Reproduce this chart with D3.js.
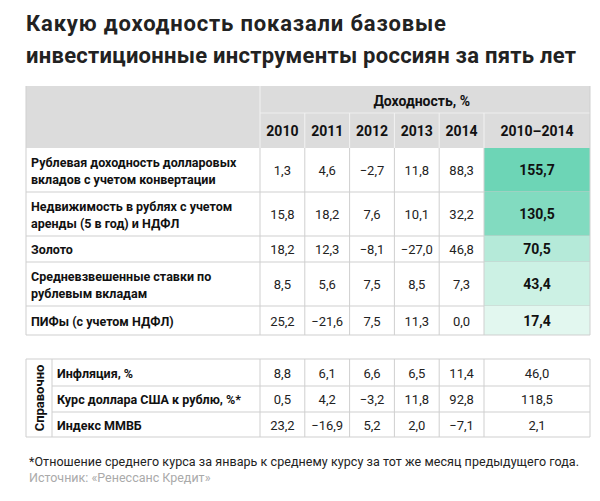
<!DOCTYPE html><html><head><meta charset="utf-8"><script src="https://cdn.jsdelivr.net/npm/d3@7"></script>
<style>body{margin:0;background:#fff}svg{font-family:Roboto,"Noto Sans",sans-serif}</style></head><body><svg width="600" height="501"></svg>
<script>
const years=["2010","2011","2012","2013","2014"];
const totalLabel="2010–2014";
const rowLabels=[["Рублевая доходность долларовых","вкладов с учетом конвертации"],["Недвижимость в рублях с учетом","аренды (5 в год) и НДФЛ"],["Золото"],["Средневзвешенные ставки по","рублевым вкладам"],["ПИФы (с учетом НДФЛ)"]];
const rowValues=[[1.3,4.6,-2.7,11.8,88.3],[15.8,18.2,7.6,10.1,32.2],[18.2,12.3,-8.1,-27.0,46.8],[8.5,5.6,7.5,8.5,7.3],[25.2,-21.6,7.5,11.3,0.0]];
const rowTotals=[155.7,130.5,70.5,43.4,17.4];
const refLabels=["Инфляция, %","Курс доллара США к рублю, %*","Индекс ММВБ"];
const refValues=[[8.8,6.1,6.6,6.5,11.4],[0.5,4.2,-3.2,11.8,92.8],[23.2,-16.9,5.2,2.0,-7.1]];
const refTotals=[46.0,118.5,2.1];

const svg=d3.select("svg");
const fmt=v=>d3.format(".1f")(v).replace(".",",").replace("-","–");
const L=26,R=590,labW=260;
const x=d3.scaleBand().domain(years).range([labW,484]);
const color=d3.scaleLinear().domain([17.4,155.7]).range(["#e2f7ef","#6dd5b6"]);
const line="#cfcfcf";
svg.append("text").attr("x",L).attr("y",31).attr("font-size",22).attr("font-weight",700).attr("fill","#222").attr("textLength",420).text("Какую доходность показали базовые");
svg.append("text").attr("x",L).attr("y",63).attr("font-size",22).attr("font-weight",700).attr("fill","#222").attr("textLength",550).text("инвестиционные инструменты россиян за пять лет");
svg.append("rect").attr("x",L).attr("y",86).attr("width",R-L).attr("height",62).attr("fill","#dcdcdc");
svg.append("text").attr("x",470).attr("y",106).attr("text-anchor","end").attr("font-size",14).attr("font-weight",700).attr("fill","#111").text("Доходность, %");
svg.append("line").attr("x1",labW).attr("x2",R).attr("y1",113).attr("y2",113).attr("stroke","#eee");
svg.append("line").attr("x1",labW).attr("x2",labW).attr("y1",86).attr("y2",148).attr("stroke","#f2f2f2");
years.forEach(y=>{
 svg.append("text").attr("x",x(y)+x.bandwidth()/2).attr("y",136).attr("text-anchor","middle").attr("font-size",14).attr("font-weight",700).attr("fill","#111").text(y);
 svg.append("line").attr("x1",x(y)+x.bandwidth()).attr("x2",x(y)+x.bandwidth()).attr("y1",113).attr("y2",148).attr("stroke","#f2f2f2");
});
svg.append("text").attr("x",537).attr("y",136).attr("text-anchor","middle").attr("font-size",14).attr("font-weight",700).attr("fill","#111").text(totalLabel);
const ys=[148,192,236,262,306,335];
rowLabels.forEach((lab,i)=>{
 const y0=ys[i],y1=ys[i+1],cy=(y0+y1)/2;
 svg.append("rect").attr("x",484).attr("y",y0).attr("width",R-484).attr("height",y1-y0).attr("fill",color(rowTotals[i]));
 lab.forEach((t,j)=>svg.append("text").attr("x",L+5).attr("y",cy+5+(j-(lab.length-1)/2)*17).attr("font-size",12.5).attr("font-weight",700).attr("fill","#111").text(t));
 rowValues[i].forEach((v,k)=>svg.append("text").attr("x",x(years[k])+x.bandwidth()/2).attr("y",cy+5).attr("text-anchor","middle").attr("font-size",13).attr("fill","#222").text(fmt(v)));
 svg.append("text").attr("x",537).attr("y",cy+5).attr("text-anchor","middle").attr("font-size",14).attr("font-weight",700).attr("fill","#111").text(fmt(rowTotals[i]));
 svg.append("line").attr("x1",L).attr("x2",R).attr("y1",y1).attr("y2",y1).attr("stroke",line);
});
[labW,...years.map(y=>x(y)+x.bandwidth())].forEach(xx=>svg.append("line").attr("x1",xx).attr("x2",xx).attr("y1",148).attr("y2",335).attr("stroke",line));
[L,R].forEach(xx=>svg.append("line").attr("x1",xx).attr("x2",xx).attr("y1",86).attr("y2",335).attr("stroke",line));
const ry=[359,386,412,437];
svg.append("line").attr("x1",L).attr("x2",R).attr("y1",ry[0]).attr("y2",ry[0]).attr("stroke",line);
refLabels.forEach((lab,i)=>{
 const cy=(ry[i]+ry[i+1])/2;
 svg.append("text").attr("x",57).attr("y",cy+5).attr("font-size",12.5).attr("font-weight",700).attr("fill","#111").text(lab);
 refValues[i].forEach((v,k)=>svg.append("text").attr("x",x(years[k])+x.bandwidth()/2).attr("y",cy+5).attr("text-anchor","middle").attr("font-size",13).attr("fill","#222").text(fmt(v)));
 svg.append("text").attr("x",537).attr("y",cy+5).attr("text-anchor","middle").attr("font-size",13).attr("fill","#222").text(fmt(refTotals[i]));
 svg.append("line").attr("x1",52).attr("x2",R).attr("y1",ry[i+1]).attr("y2",ry[i+1]).attr("stroke",line);
});
svg.append("line").attr("x1",L).attr("x2",52).attr("y1",ry[3]).attr("y2",ry[3]).attr("stroke",line);
[L,52,labW,...years.map(y=>x(y)+x.bandwidth()),R].forEach(xx=>svg.append("line").attr("x1",xx).attr("x2",xx).attr("y1",ry[0]).attr("y2",ry[3]).attr("stroke",line));
svg.append("text").attr("transform","translate(44,398) rotate(-90)").attr("text-anchor","middle").attr("font-size",13).attr("font-weight",700).attr("fill","#111").text("Справочно");
svg.append("text").attr("x",L+3).attr("y",466).attr("font-size",12.5).attr("fill","#222").attr("textLength",550).text("*Отношение среднего курса за январь к среднему курсу за тот же месяц предыдущего года.");
svg.append("text").attr("x",L+3).attr("y",482).attr("font-size",12.5).attr("fill","#aaa").text("Источник: «Ренессанс Кредит»");
</script></body></html>
